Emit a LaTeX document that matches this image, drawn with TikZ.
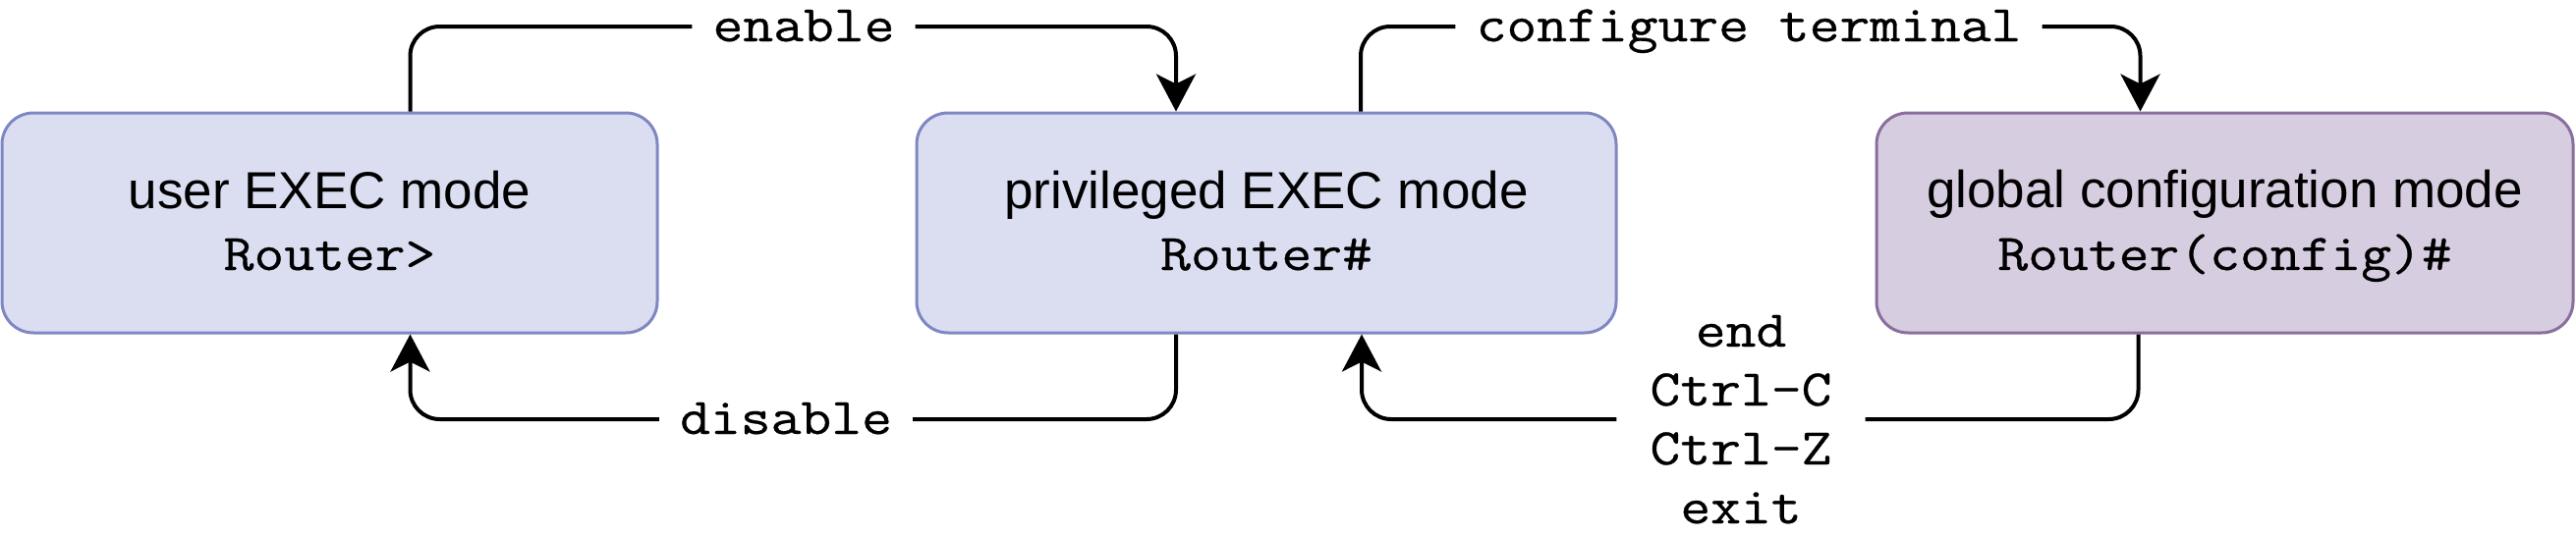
\documentclass[tikz,border=0pt]{standalone}
\usepackage{fontspec}
\setmainfont{Liberation Sans}
\setsansfont{Liberation Sans}
\setmonofont{Latin Modern Mono}[FakeStretch=1.14, FakeBold=0.6]
\usetikzlibrary{arrows.meta,calc}
\definecolor{bluefill}{HTML}{DADEF0}
\definecolor{blueline}{HTML}{7F87C3}
\definecolor{purpfill}{HTML}{D6CDE0}
\definecolor{purpline}{HTML}{8A6E9E}
\begin{document}
\begin{tikzpicture}[x=1pt,y=-1pt,
  modebox/.style={draw, rounded corners=32pt, line width=3pt, minimum height=224pt,
    inner sep=0pt, align=center, font=\sffamily\fontsize{53}{63}\selectfont},
  conn/.style={line width=4pt, rounded corners=30pt,
    -{Stealth[length=38pt,width=40pt,inset=10pt]}},
  lbl/.style={fill=white, inner xsep=21pt, inner ysep=0pt,
    font=\ttfamily\fontsize{52.5}{60}\selectfont, text height=30pt, text depth=0pt},
  retlbl/.style={inner xsep=34pt, inner ysep=0pt, align=center,
    font=\ttfamily\fontsize{52.5}{60}\selectfont},
]
\useasboundingbox (0,0) rectangle (2622,546);

% mode boxes
\node[modebox, fill=bluefill, draw=blueline, minimum width=667pt] (u) at (335.5,227)
  {\rule{0pt}{45pt}user EXEC mode\\{\ttfamily\fontsize{52.5}{63}\selectfont\rule[-12pt]{0pt}{12pt}Router>}};
\node[modebox, fill=bluefill, draw=blueline, minimum width=712pt] (p) at (1289,227)
  {\rule{0pt}{45pt}privileged EXEC mode\\{\ttfamily\fontsize{52.5}{63}\selectfont\rule[-12pt]{0pt}{12pt}Router\#}};
\node[modebox, fill=purpfill, draw=purpline, minimum width=709pt] (g) at (2264.5,227)
  {\rule{0pt}{45pt}global configuration mode\\{\ttfamily\fontsize{52.5}{63}\selectfont\rule[-12pt]{0pt}{12pt}Router(config)\#}};

% connector labels
\node[lbl] (en) at (818,27) {enable};
\node[lbl] (dis) at (800,427) {disable};
\node[lbl] (cfg) at (1780,27) {configure terminal};
\node[retlbl] (ret) at (1772,427)
  {\rule{0pt}{42pt}end\\Ctrl-C\\Ctrl-Z\\exit\rule[-10pt]{0pt}{10pt}};

% ports
\coordinate (uto) at ([xshift=82pt]u.north);
\coordinate (ubi) at ([xshift=82pt]u.south);
\coordinate (pti) at ([xshift=-92pt]p.north);
\coordinate (pbo) at ([xshift=-92pt]p.south);
\coordinate (pto) at ([xshift=96pt]p.north);
\coordinate (pbi) at ([xshift=97pt]p.south);
\coordinate (gti) at ([xshift=-86pt]g.north);
\coordinate (gbo) at ([xshift=-88pt]g.south);

% connectors
\draw[conn] (uto) |- (en) -| (pti);
\draw[conn] (pbo) |- (dis) -| (ubi);
\draw[conn] (pto) |- (cfg) -| (gti);
\draw[conn] (gbo) |- (ret) -| (pbi);
\end{tikzpicture}
\end{document}
